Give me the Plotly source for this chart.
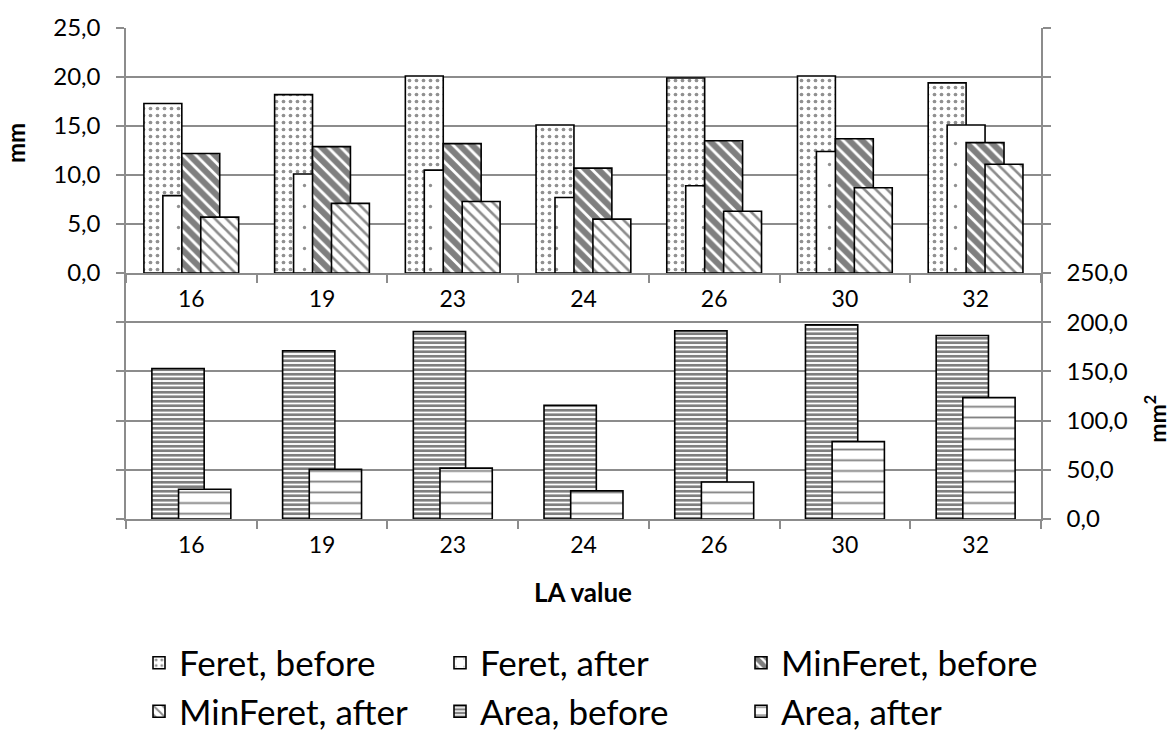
import plotly.graph_objects as go

# LA values (categories)
la_values = ["16", "19", "23", "24", "26", "30", "32"]

# Particle dimensions in mm
feret_before = [17.3, 18.2, 20.1, 15.1, 19.9, 20.1, 19.4]
feret_after = [7.9, 10.1, 10.5, 7.7, 8.9, 12.4, 15.1]
minferet_before = [12.2, 12.9, 13.2, 10.7, 13.5, 13.7, 13.3]
minferet_after = [5.7, 7.1, 7.3, 5.5, 6.3, 8.7, 11.1]

# Particle area in mm^2
area_before = [153.0, 171.0, 190.5, 115.6, 191.2, 197.3, 186.5]
area_after = [30.2, 50.4, 51.7, 28.6, 37.6, 78.6, 123.3]

FONT = "Lato"
GRID = "#8c8c8c"
OUTLINE = dict(color="black", width=1.6)

fig = go.Figure()

# --- top panel: lengths (overlapping clustered bars) ---
w_top = 0.29
step_top = 0.145
start_top = -0.363
top_series = [
    ("Feret, before", feret_before, dict(shape=".", size=7, solidity=0.22, fgcolor="#222222", bgcolor="white")),
    ("Feret, after", feret_after, dict(shape=".", size=21, solidity=0.02, fgcolor="#222222", bgcolor="white")),
    ("MinFeret, before", minferet_before, dict(shape="\\", size=9, solidity=0.68, fgcolor="black", bgcolor="white")),
    ("MinFeret, after", minferet_after, dict(shape="\\", size=8, solidity=0.32, fgcolor="#1a1a1a", bgcolor="white")),
]
for i, (name, vals, pat) in enumerate(top_series):
    fig.add_trace(go.Bar(
        x=la_values, y=vals, name=name,
        offset=start_top + i * step_top, width=w_top,
        marker=dict(color="white", line=OUTLINE, pattern=pat),
        xaxis="x", yaxis="y",
    ))

# --- bottom panel: area ---
w_bot = 0.40
step_bot = 0.204
start_bot = -0.302
bottom_series = [
    ("Area, before", area_before, dict(shape="-", size=4.5, solidity=0.6, fgcolor="black", bgcolor="white")),
    ("Area, after", area_after, dict(shape="-", size=10.7, solidity=0.17, fgcolor="black", bgcolor="white")),
]
for i, (name, vals, pat) in enumerate(bottom_series):
    fig.add_trace(go.Bar(
        x=la_values, y=vals, name=name,
        offset=start_bot + i * step_bot, width=w_bot,
        marker=dict(color="white", line=OUTLINE, pattern=pat),
        xaxis="x2", yaxis="y2",
    ))

split = (519 - 271) / 495

xcommon = dict(
    type="category", categoryorder="array", categoryarray=la_values,
    showline=True, linecolor=GRID, linewidth=1.5,
    ticks="outside", tickson="boundaries", ticklen=8, tickcolor=GRID, tickwidth=1.5,
    showgrid=False, tickfont=dict(family=FONT, size=23, color="black"),
    ticklabelstandoff=5, domain=[0, 1],
)
ycommon = dict(
    showline=True, linecolor=GRID, linewidth=1.5, mirror="ticks",
    ticks="outside", ticklen=8, tickcolor=GRID, tickwidth=1.5,
    showgrid=True, gridcolor=GRID, gridwidth=1.5, zeroline=False,
    tickformat=".1f", tickfont=dict(family=FONT, size=24, color="black"),
)

fig.update_layout(
    width=1173, height=747,
    margin=dict(l=126, r=132, t=24, b=228),
    paper_bgcolor="white", plot_bgcolor="white",
    separators=", ",
    barmode="overlay",
    font=dict(family=FONT, color="black"),
    xaxis=dict(xcommon, anchor="y"),
    yaxis=dict(ycommon, domain=[split, 1], range=[0, 25], dtick=5, anchor="x",
               ticklabelstandoff=11),
    xaxis2=dict(xcommon, anchor="y2"),
    yaxis2=dict(ycommon, domain=[0, split], range=[0, 250], dtick=50, side="right",
                anchor="x2", ticklabelstandoff=11),
    showlegend=True,
    legend=dict(
        orientation="h", xref="paper", yref="container",
        x=(139 - 126) / 915, y=0.152, xanchor="left", yanchor="top",
        entrywidth=256, entrywidthmode="pixels",
        font=dict(family=FONT, size=35, color="black"),
        traceorder="normal", bgcolor="rgba(0,0,0,0)",
    ),
    annotations=[
        dict(text="<b>mm</b>", textangle=-90, xref="paper", yref="paper",
             x=(15 - 126) / 915, y=(519 - 140) / 495, showarrow=False,
             xanchor="center", yanchor="middle",
             font=dict(family=FONT, size=24)),
        dict(text="<b>mm<sup>2</sup></b>", textangle=-90, xref="paper", yref="paper",
             x=(1156 - 126) / 915, y=(519 - 418) / 495, showarrow=False,
             xanchor="center", yanchor="middle",
             font=dict(family=FONT, size=23)),
        dict(text="<b>LA value</b>", xref="paper", yref="paper",
             x=(583 - 126) / 915, y=(519 - 593) / 495, showarrow=False,
             xanchor="center", yanchor="middle",
             font=dict(family=FONT, size=26)),
    ],
)

fig.write_html("out.html")
